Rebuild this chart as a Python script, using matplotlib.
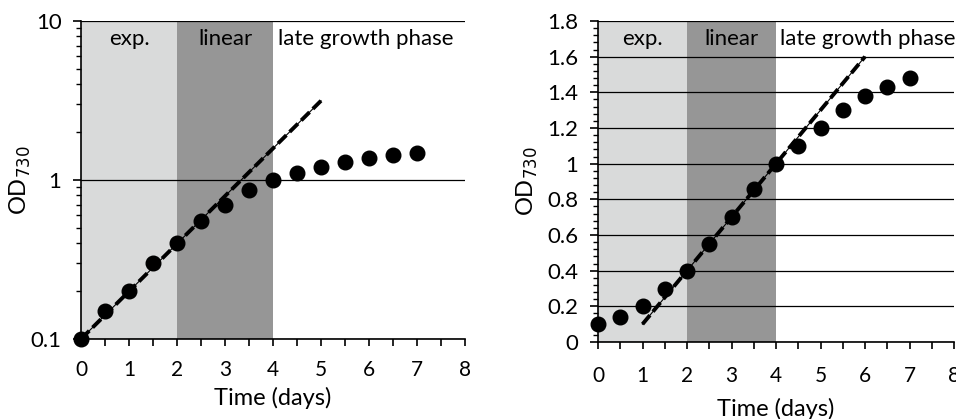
import numpy as np
import matplotlib
matplotlib.use('Agg')
import matplotlib.pyplot as plt
from matplotlib.ticker import MultipleLocator, LogLocator, NullFormatter, FuncFormatter

plt.rcParams['font.family'] = ['Lato', 'DejaVu Sans']

# data
days = [0, 0.5, 1, 1.5, 2, 2.5, 3, 3.5, 4, 4.5, 5, 5.5, 6, 6.5, 7]
od730 = [0.1, 0.15, 0.2, 0.3, 0.4, 0.55, 0.7, 0.86, 1.0, 1.1, 1.21, 1.3, 1.38, 1.44, 1.48]
od730_lin = [0.1, 0.14, 0.2, 0.3, 0.4, 0.55, 0.7, 0.86, 1.0, 1.1, 1.2, 1.3, 1.38, 1.43, 1.48]

# trend lines (end points)
exp_fit_days = [0, 5]
exp_fit_od = [0.1, 3.15]
lin_fit_days = [1, 6]
lin_fit_od = [0.1, 1.6]

phases = [(0, 2, '#d9dada', 'exp.'), (2, 4, '#969696', 'linear')]
late_label = 'late growth phase'

fig = plt.figure(figsize=(9.56, 4.19), dpi=100)
ax1 = fig.add_axes([81/956, 1-339/419, (465-81)/956, (339-21)/419])
ax2 = fig.add_axes([598/956, 1-342/419, (954-598)/956, (342-21)/419])

fs = 16

def style(ax):
    for s in ['top', 'right']:
        ax.spines[s].set_visible(False)
    ax.spines['left'].set_linewidth(1.2)
    ax.spines['bottom'].set_linewidth(1.2)
    ax.set_xlim(0, 8)
    ax.xaxis.set_major_locator(MultipleLocator(1))
    ax.xaxis.set_minor_locator(MultipleLocator(0.5))
    ax.tick_params(axis='x', which='both', direction='out', length=5, width=1.2, labelsize=fs - 1, pad=10)
    ax.tick_params(axis='y', which='major', direction='out', length=6, width=1.2, labelsize=fs, pad=8)
    ax.tick_params(axis='y', which='minor', direction='out', length=3.5, width=1)
    ax.grid(axis='y', which='major', color='black', linewidth=0.9)
    ax.set_axisbelow(True)
    for a, b, c, lab in phases:
        ax.axvspan(a, b, color=c, zorder=0, lw=0)
        ax.text((a + b) / 2, 0.943, lab, transform=ax.get_xaxis_transform(),
                ha='center', va='center', fontsize=fs)
    ax.text(4.1, 0.943, late_label, transform=ax.get_xaxis_transform(),
            ha='left', va='center', fontsize=fs)
    ax.set_xlabel('Time (days)', fontsize=fs + 1)
    ax.set_ylabel('OD$_{730}$', fontsize=fs + 1)

# left: log scale
style(ax1)
ax1.set_yscale('log')
ax1.set_ylim(0.1, 10)
ax1.yaxis.set_major_locator(LogLocator(base=10))
ax1.yaxis.set_minor_locator(LogLocator(base=10, subs=np.arange(2, 10)))
ax1.yaxis.set_minor_formatter(NullFormatter())
ax1.yaxis.set_major_formatter(FuncFormatter(lambda v, p: '%g' % v))
ax1.plot(exp_fit_days, exp_fit_od, color='black', lw=2.8, ls=(0, (3, 1.2)), zorder=3)
ax1.plot(exp_fit_days, exp_fit_od, color='black', lw=0.8, zorder=3)
ax1.plot(days, od730, 'o', color='black', ms=10.5, zorder=4, clip_on=False)
ax1.xaxis.labelpad = 5
ax1.yaxis.set_label_coords(-0.125, 0.5)

# right: linear scale
style(ax2)
ax2.set_ylim(0, 1.8)
ax2.yaxis.set_major_locator(MultipleLocator(0.2))
ax2.yaxis.set_minor_locator(MultipleLocator(0.04))
ax2.yaxis.set_major_formatter(FuncFormatter(lambda v, p: '%g' % round(v, 2)))
ax2.tick_params(axis='x', which='both', pad=12)
ax2.plot(lin_fit_days, lin_fit_od, color='black', lw=2.8, ls=(0, (3, 1.2)), zorder=3)
ax2.plot(lin_fit_days, lin_fit_od, color='black', lw=0.8, zorder=3)
ax2.plot(days, od730_lin, 'o', color='black', ms=10.5, zorder=4, clip_on=False)
ax2.xaxis.labelpad = 9
ax2.yaxis.set_label_coords(-0.163, 0.5)

fig.savefig('out.png', dpi=100)
